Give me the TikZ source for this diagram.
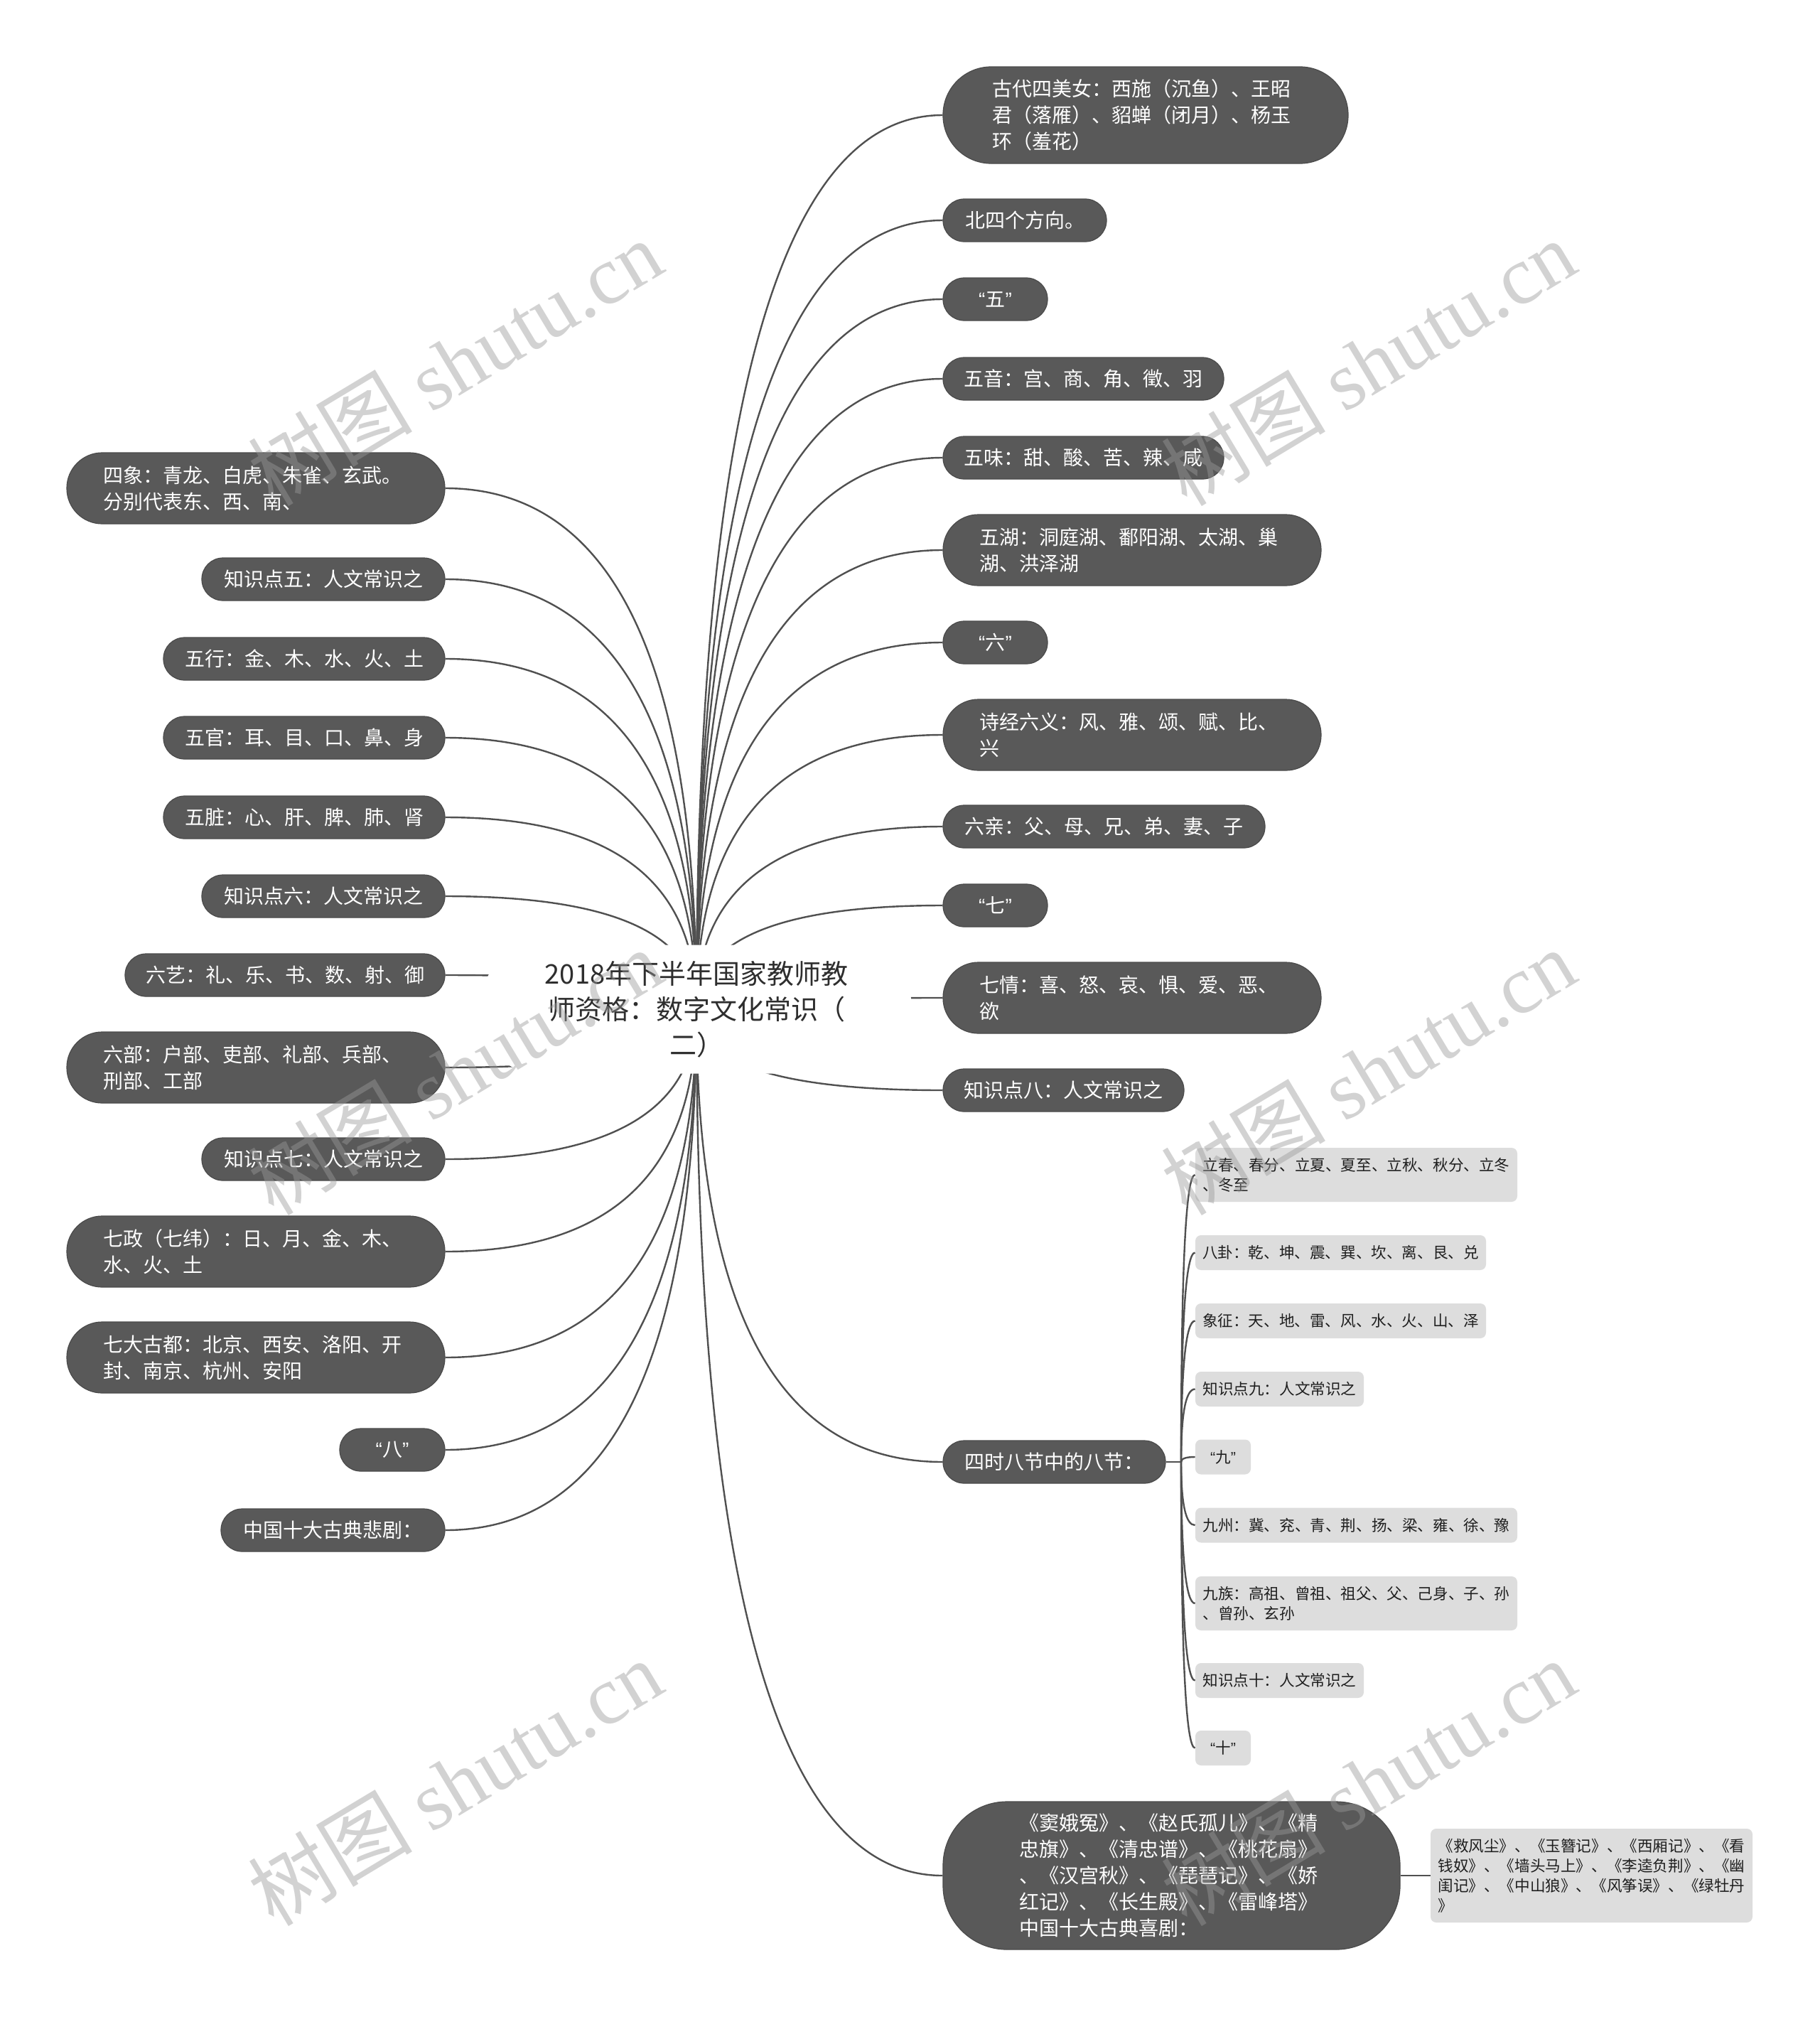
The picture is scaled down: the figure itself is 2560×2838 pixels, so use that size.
\documentclass[tikz,border=0pt]{standalone}
\usepackage{fontspec}
\setmainfont{Noto Sans CJK SC}
\newfontfamily\cjkwm{Noto Sans CJK SC}
\newfontfamily\wmlat{Liberation Serif}
\newfontfamily\qfont{Liberation Sans}
\usetikzlibrary{calc}
\definecolor{dkfill}{HTML}{595959}
\definecolor{dkline}{HTML}{4A4A4A}
\definecolor{ltfill}{HTML}{DDDDDD}
\definecolor{cline}{HTML}{505050}
\definecolor{ttl}{HTML}{2E2E2E}
\definecolor{wmc}{HTML}{9A9A9A}
\pgfdeclarelayer{bg}\pgfdeclarelayer{fg}\pgfsetlayers{bg,main,fg}
\newcommand\myqt[1]{{\qfont “}#1{\qfont ”}}
\newcommand\qc[2]{\draw[conn] (#1) .. controls ($(#1)!0.667!(#1 |- #2)$) and ($(#2)!0.667!(#1 |- #2)$) .. (#2);}
\tikzset{
 dk/.style={fill=dkfill, draw=dkline, line width=0.6pt, text=white, font=\fontsize{14}{18.5}\selectfont, inner sep=0pt},
 dk1/.style={dk, minimum height=30pt, rounded corners=14.9pt, align=center},
 dk2/.style={dk, minimum height=50pt, rounded corners=24.9pt, align=left, minimum width=266pt, text width=215pt},
 lt/.style={fill=ltfill, draw=none, text=black!88, font=\fontsize{10.8}{14}\selectfont, inner sep=0pt, rounded corners=4pt},
 lt1/.style={lt, minimum height=24.5pt, align=center},
 lt2/.style={lt, minimum width=226.5pt, minimum height=38pt, text width=216pt, align=left},
 rootbox/.style={fill=white, draw=none, minimum width=302pt, minimum height=90.5pt, rounded corners=40pt, align=center, text=ttl, font=\fontsize{19}{25}\selectfont, inner sep=0pt},
 conn/.style={draw=cline, line width=1.2pt},
 wm/.style={font=\fontsize{58}{58}\selectfont, text=wmc, opacity=0.44, rotate=31},
}
\begin{document}
\begin{tikzpicture}[x=0.5pt, y=-0.5pt]
\useasboundingbox (0,0) rectangle (2560,2838);
% root
\node[rootbox] (root) at (980,1420) {2018年下半年国家教师教\\师资格：数字文化常识（\\二）};
% right side
\node[dk2, minimum width=285pt, minimum height=68pt, rounded corners=33.9pt, text width=216pt] (r1) at (1612,162) {古代四美女：西施（沉鱼）、王昭\\君（落雁）、貂蝉（闭月）、杨玉\\环（羞花）};
\node[dk1, minimum width=115pt] (r2) at (1442,310) {北四个方向。};
\node[dk1, minimum width=73.5pt] (r3) at (1400.5,421) {\myqt{五}};
\node[dk1, minimum width=197.5pt] (r4) at (1524.5,533) {五音：宫、商、角、徵、羽};
\node[dk1, minimum width=197.5pt] (r5) at (1524.5,644) {五味：甜、酸、苦、辣、咸};
\node[dk2] (r6) at (1593,774) {五湖：洞庭湖、鄱阳湖、太湖、巢\\湖、洪泽湖};
\node[dk1, minimum width=73.5pt] (r7) at (1400.5,904) {\myqt{六}};
\node[dk2] (r8) at (1593,1034) {诗经六义：风、雅、颂、赋、比、\\兴};
\node[dk1, minimum width=226.5pt] (r9) at (1553.5,1163) {六亲：父、母、兄、弟、妻、子};
\node[dk1, minimum width=73.5pt] (r10) at (1400.5,1274) {\myqt{七}};
\node[dk2] (r11) at (1593,1404) {七情：喜、怒、哀、惧、爱、恶、\\欲};
\node[dk1, minimum width=169.5pt] (r12) at (1496.5,1534) {知识点八：人文常识之};
\node[dk1, minimum width=156.5pt] (r13) at (1483.5,2057) {四时八节中的八节：};
\node[dk2, minimum width=321.5pt, minimum height=104pt, rounded corners=45pt, text width=214.5pt] (r14) at (1648.5,2639) {《窦娥冤》、《赵氏孤儿》、《精\\忠旗》、《清忠谱》、《桃花扇》\\、《汉宫秋》、《琵琶记》、《娇\\红记》、《长生殿》、《雷峰塔》\\中国十大古典喜剧：};
% left side
\node[dk2] (l1) at (360,687) {四象：青龙、白虎、朱雀、玄武。\\分别代表东、西、南、};
\node[dk1, minimum width=171pt] (l2) at (455,815) {知识点五：人文常识之};
\node[dk1, minimum width=198pt] (l3) at (428,927) {五行：金、木、水、火、土};
\node[dk1, minimum width=198pt] (l4) at (428,1038) {五官：耳、目、口、鼻、身};
\node[dk1, minimum width=198pt] (l5) at (428,1150) {五脏：心、肝、脾、肺、肾};
\node[dk1, minimum width=171pt] (l6) at (455,1261) {知识点六：人文常识之};
\node[dk1, minimum width=225pt] (l7) at (401,1372) {六艺：礼、乐、书、数、射、御};
\node[dk2] (l8) at (360,1502) {六部：户部、吏部、礼部、兵部、\\刑部、工部};
\node[dk1, minimum width=171pt] (l9) at (455,1631) {知识点七：人文常识之};
\node[dk2] (l10) at (360,1761) {七政（七纬）：日、月、金、木、\\水、火、土};
\node[dk2] (l11) at (360,1910) {七大古都：北京、西安、洛阳、开\\封、南京、杭州、安阳};
\node[dk1, minimum width=74pt] (l12) at (552,2040) {\myqt{八}};
\node[dk1, minimum width=157.5pt] (l13) at (468.5,2153) {中国十大古典悲剧：};
% sub items
\coordinate (hub) at (1662,2057);
\node[lt2] (s1) at (1908.5,1653) {立春、春分、立夏、夏至、立秋、秋分、立冬\\、冬至};
\node[lt1, minimum width=204.5pt] (s2) at (1886.5,1762.5) {八卦：乾、坤、震、巽、坎、离、艮、兑};
\node[lt1, minimum width=204.5pt] (s3) at (1886.5,1858.5) {象征：天、地、雷、风、水、火、山、泽};
\node[lt1, minimum width=118.5pt] (s4) at (1800.5,1954.5) {知识点九：人文常识之};
\node[lt1, minimum width=39pt] (s5) at (1721,2050) {\myqt{九}};
\node[lt1, minimum width=226.5pt] (s6) at (1908.5,2146) {九州：冀、兖、青、荆、扬、梁、雍、徐、豫};
\node[lt2] (s7) at (1908.5,2256) {九族：高祖、曾祖、祖父、父、己身、子、孙\\、曾孙、玄孙};
\node[lt1, minimum width=118.5pt] (s8) at (1800.5,2364.5) {知识点十：人文常识之};
\node[lt1, minimum width=39pt] (s9) at (1721,2459.5) {\myqt{十}};
\node[lt2, minimum height=66pt] (s10) at (2239.5,2639) {《救风尘》、《玉簪记》、《西厢记》、《看\\钱奴》、《墙头马上》、《李逵负荆》、《幽\\闺记》、《中山狼》、《风筝误》、《绿牡丹\\》};
% connectors
\begin{pgfonlayer}{bg}
\fill[white] (0,0) rectangle (2560,2838);
\foreach \i in {1,...,14} {\qc{root.center}{r\i.west}}
\foreach \i in {1,...,13} {\qc{root.center}{l\i.east}}
\draw[conn] (r13.east) -- (hub);
\foreach \i in {1,...,9} {\qc{hub}{s\i.west}}
\draw[conn] (r14.east) -- (s10.west);
\end{pgfonlayer}
% watermarks
\begin{pgfonlayer}{fg}
\foreach \p [count=\k] in {(640,510),(1925,510),(640,1508),(1925,1508),(640,2508),(1925,2508)}
  {\node[wm] (wm\k) at \p {{\cjkwm 树图} {\wmlat shutu.cn}};}
\end{pgfonlayer}
\end{tikzpicture}
\end{document}
